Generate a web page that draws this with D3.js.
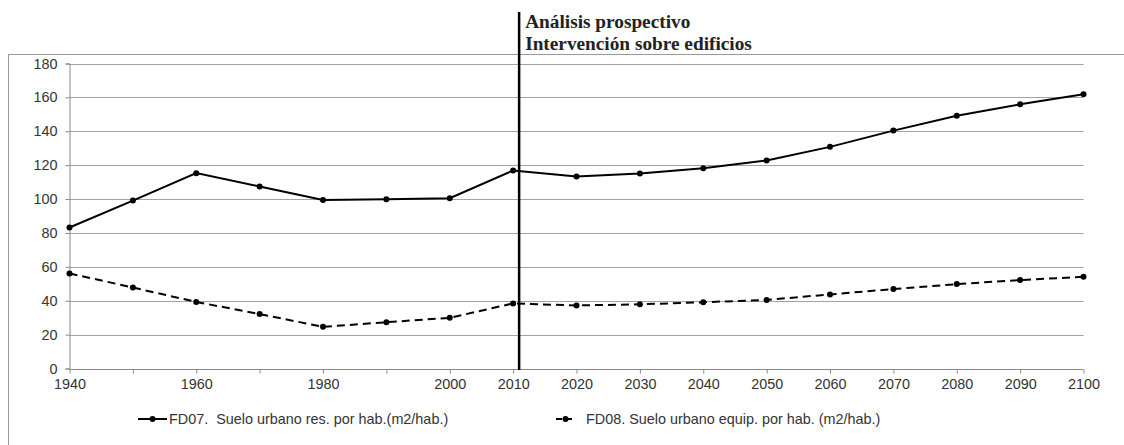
<!DOCTYPE html>
<html>
<head>
<meta charset="utf-8">
<script src="https://cdn.jsdelivr.net/npm/d3@7"></script>
<style>
  html, body { margin: 0; padding: 0; background: #fff; }
  svg { display: block; }
</style>
</head>
<body>
<svg id="chart" width="1124" height="445"></svg>
<script>
// ---- Data ----
const years = [1940, 1950, 1960, 1970, 1980, 1990, 2000, 2010, 2020, 2030, 2040, 2050, 2060, 2070, 2080, 2090, 2100];
const fd07 = [83.2, 99.1, 115.3, 107.4, 99.4, 99.9, 100.5, 116.9, 113.3, 115.1, 118.2, 122.8, 130.8, 140.4, 149.2, 155.9, 161.8];
const fd08 = [56.1, 47.8, 39.3, 32.1, 24.6, 27.3, 29.9, 38.4, 37.2, 37.9, 39.1, 40.5, 43.7, 46.9, 49.8, 52.2, 54.1];
const xTickLabels = [1940, 1960, 1980, 2000, 2010, 2020, 2030, 2040, 2050, 2060, 2070, 2080, 2090, 2100];
const yTicks = [0, 20, 40, 60, 80, 100, 120, 140, 160, 180];
const seriesNames = ["FD07.  Suelo urbano res. por hab.(m2/hab.)", "FD08. Suelo urbano equip. por hab. (m2/hab.)"];
const annotationLines = ["Análisis prospectivo", "Intervención sobre edificios"];
const annotationYear = 2010;

// ---- Layout ----
const svg = d3.select("#chart");
const x = d3.scalePoint().domain(years).range([69.5, 1083.5]).padding(0);
const y = d3.scaleLinear().domain([0, 180]).range([368.5, 63.5]);
const gridColor = "#a3a3a3";
const textColor = "#333";
const sans = "'Liberation Sans', Arial, sans-serif";
const fs = "14.4px";

// outer chart border (extends beyond right/bottom edges)
svg.append("rect")
  .attr("x", 8.5).attr("y", 54.5)
  .attr("width", 1200).attr("height", 500)
  .attr("fill", "none").attr("stroke", "#9a9a9a").attr("stroke-width", 1);

// gridlines
svg.append("g").selectAll("line").data(yTicks.filter(d => d > 0)).join("line")
  .attr("x1", x.range()[0]).attr("x2", x.range()[1])
  .attr("y1", d => Math.round(y(d)) + 0.5).attr("y2", d => Math.round(y(d)) + 0.5)
  .attr("stroke", gridColor).attr("stroke-width", 1);

// y axis
const yAxis = d3.axisLeft(y).tickValues(yTicks).tickSize(4).tickPadding(8);
const gy = svg.append("g").attr("transform", `translate(${x.range()[0]},0)`).call(yAxis);
gy.select(".domain").attr("stroke", "#888");
gy.selectAll(".tick line").attr("stroke", "#888");
gy.selectAll(".tick text").attr("fill", textColor).style("font-family", sans).style("font-size", fs);

// x axis
const xAxis = d3.axisBottom(x).tickSize(4).tickPadding(5)
  .tickFormat(d => xTickLabels.includes(d) ? d : "");
const gx = svg.append("g").attr("transform", `translate(0,${Math.round(y(0)) + 0.5})`).call(xAxis);
gx.select(".domain").attr("stroke", "#888").attr("d", `M${x.range()[0]},0H${x.range()[1]}`);
gx.selectAll(".tick line").attr("stroke", "#888");
gx.selectAll(".tick text").attr("fill", textColor).style("font-family", sans).style("font-size", fs);

// lines
const line = d3.line().x((d, i) => x(years[i])).y(d => y(d));
svg.append("path").datum(fd07).attr("d", line)
  .attr("fill", "none").attr("stroke", "#000").attr("stroke-width", 2);
svg.append("path").datum(fd08).attr("d", line)
  .attr("fill", "none").attr("stroke", "#000").attr("stroke-width", 2)
  .attr("stroke-dasharray", "8,5");

// markers
[fd07, fd08].forEach(s => {
  svg.append("g").selectAll("circle").data(s).join("circle")
    .attr("cx", (d, i) => x(years[i])).attr("cy", d => y(d))
    .attr("r", 3).attr("fill", "#000");
});

// vertical annotation line
const vx = x(annotationYear) + 6;
svg.append("line")
  .attr("x1", vx).attr("x2", vx).attr("y1", 12).attr("y2", 370)
  .attr("stroke", "#000").attr("stroke-width", 2.5);

svg.append("g").selectAll("text").data(annotationLines).join("text")
  .attr("x", vx + 6).attr("y", (d, i) => 28 + i * 22)
  .style("font-family", "'Liberation Serif', 'Times New Roman', serif")
  .style("font-weight", "bold").style("font-size", "19.3px")
  .attr("fill", "#222")
  .text(d => d);

// legend
const legY = 419;
const leg = svg.append("g");
leg.append("line").attr("x1", 138).attr("x2", 167).attr("y1", legY).attr("y2", legY)
  .attr("stroke", "#000").attr("stroke-width", 2);
leg.append("circle").attr("cx", 152.5).attr("cy", legY).attr("r", 3).attr("fill", "#000");
leg.append("text").attr("x", 169).attr("y", legY + 5)
  .style("font-family", sans).style("font-size", fs).attr("fill", textColor)
  .style("white-space", "pre").attr("xml:space", "preserve")
  .text(seriesNames[0]);

leg.append("line").attr("x1", 556).attr("x2", 572).attr("y1", legY).attr("y2", legY)
  .attr("stroke", "#000").attr("stroke-width", 2).attr("stroke-dasharray", "6,4");
leg.append("circle").attr("cx", 565.5).attr("cy", legY).attr("r", 3).attr("fill", "#000");
leg.append("text").attr("x", 586).attr("y", legY + 5)
  .style("font-family", sans).style("font-size", fs).attr("fill", textColor)
  .text(seriesNames[1]);
</script>
</body>
</html>
